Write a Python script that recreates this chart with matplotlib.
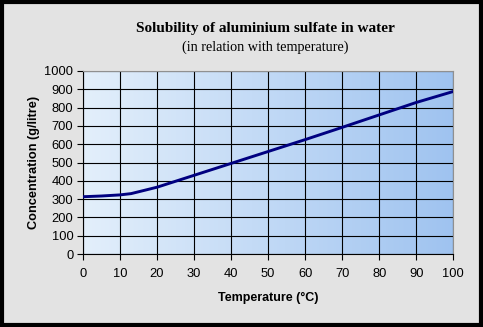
import numpy as np
import matplotlib
matplotlib.use('Agg')
from matplotlib import pyplot as plt
from matplotlib.colors import LinearSegmentedColormap
from matplotlib.patches import Rectangle

# Data
temperature = [0, 5, 10, 13, 20, 30, 40, 50, 60, 70, 80, 90, 100]
concentration = [313, 317, 323, 330, 365, 430, 495, 560, 625, 692, 760, 828, 888]

x_ticks = list(range(0, 101, 10))
y_ticks = list(range(0, 1001, 100))

title = 'Solubility of aluminium sulfate in water'
subtitle = '(in relation with temperature)'
x_label = 'Temperature (°C)'
y_label = 'Concentration (g/litre)'

fig = plt.figure(figsize=(4.83, 3.27), dpi=100)
fig.patch.set_facecolor('#e3e3e3')

# black frame around the whole picture
fig.patches.append(Rectangle((0.004, 0.006), 0.992, 0.988, transform=fig.transFigure,
                             fill=False, edgecolor='black', linewidth=3.0))

ax = fig.add_axes([0.1718, 0.2232, 0.7666, 0.5597])

# horizontal blue gradient background
cmap = LinearSegmentedColormap.from_list('bg', ['#e3effb', '#9fc3f0'])
grad = np.linspace(0, 1, 256).reshape(1, -1)
ax.imshow(grad, cmap=cmap, aspect='auto', extent=[0, 100, 0, 1000],
          zorder=0, interpolation='bilinear')

ax.set_xlim(0, 100)
ax.set_ylim(0, 1000)
ax.set_xticks(x_ticks)
ax.set_yticks(y_ticks)
ax.grid(True, color='black', linewidth=0.8, zorder=1)

ax.plot(temperature, concentration, color='#000080', linewidth=2.1, zorder=3)

for s in ['top', 'right']:
  ax.spines[s].set_color('#909090')
for s in ['left', 'bottom']:
  ax.spines[s].set_color('black')
  ax.spines[s].set_linewidth(0.8)

ax.tick_params(direction='out', length=4, width=0.8, colors='black',
               labelsize=9.3, pad=3)
ax.tick_params(axis='x', pad=6)
for lab in ax.get_xticklabels() + ax.get_yticklabels():
  lab.set_fontfamily('Liberation Sans')

ax.set_xlabel(x_label, fontfamily='Liberation Sans', fontweight='bold',
              fontsize=9, labelpad=9)
ax.set_ylabel(y_label, fontfamily='Liberation Sans', fontweight='bold',
              fontsize=9.2, labelpad=3)

fig.text(0.549, 0.912, title, ha='center', va='center',
         fontfamily='Liberation Serif', fontweight='bold', fontsize=11)
fig.text(0.549, 0.855, subtitle, ha='center', va='center',
         fontfamily='Liberation Serif', fontsize=10.2)

fig.savefig('out.png', dpi=100, facecolor=fig.get_facecolor())
